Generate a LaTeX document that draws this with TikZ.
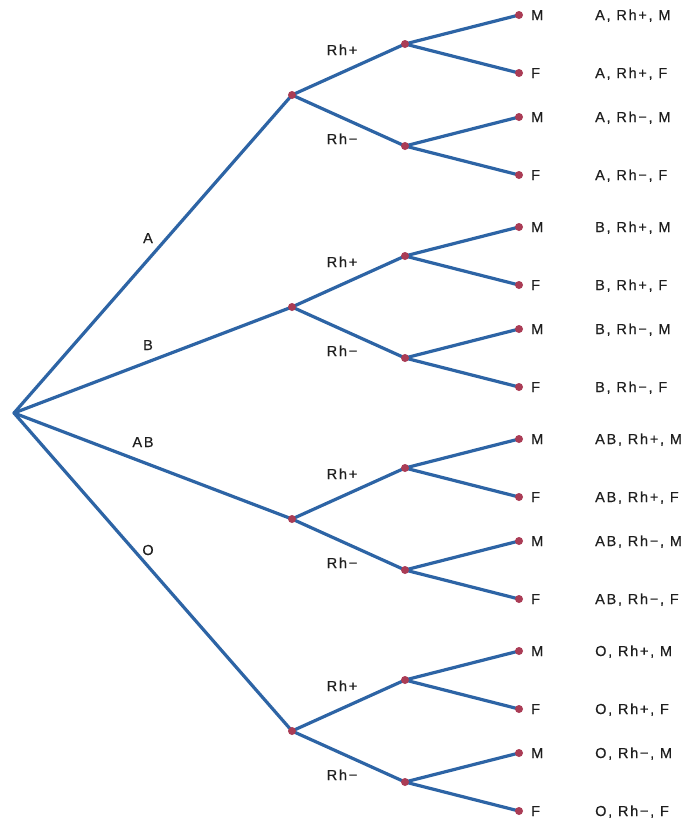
\documentclass[tikz,border=0pt]{standalone}
\usepackage{fontspec}
\setmainfont{Liberation Sans}[LetterSpace=12,FakeBold=0.4]
\usetikzlibrary{backgrounds}
\definecolor{branch}{RGB}{45,100,165}
\definecolor{dotc}{RGB}{170,60,85}
\definecolor{txt}{RGB}{30,30,30}
\begin{document}
\begin{tikzpicture}[x=1pt,y=-1pt,
  br/.style={draw=branch,line width=3.2pt,line cap=round},
  dot/.style={circle,fill=dotc,inner sep=0pt,minimum size=8pt},
  lbl/.style={text=txt,font=\fontsize{14.5}{16}\selectfont,inner sep=0pt}]
\begin{pgfonlayer}{background}
\fill[white] (0,0) rectangle (691,825);
\end{pgfonlayer}
\useasboundingbox (0,0) rectangle (691,825);
\coordinate (r) at (14,413);
\foreach \g/\gl/\yy/\lx/\ly in {a/A/95/148/238, b/B/307/148/345, ab/AB/519/143/442, o/O/731/148/550} {
  \node[dot] (\g) at (292,\yy) {};
  \node[lbl,anchor=base] (\g-l) at (\lx,{\ly+5}) {\gl};
  \begin{pgfonlayer}{background}\draw[br] (r) -- (\g.center);\end{pgfonlayer}
  \foreach \s/\sl/\dy/\ldy in {p/Rh+/-51/6, m/Rh−/51/-7} {
    \pgfmathsetmacro\yb{\yy+\dy}
    \node[dot] (\g\s) at (405,\yb) {};
    \node[lbl,anchor=base] (\g\s-l) at (342,{\yb+\ldy+5}) {\sl};
    \begin{pgfonlayer}{background}\draw[br] (\g.center) -- (\g\s.center);\end{pgfonlayer}
    \foreach \c/\cy in {M/-29, F/29} {
      \pgfmathsetmacro\yc{\yb+\cy}
      \node[dot] (\g\s\c) at (519,\yc) {};
      \node[lbl,anchor=base west] (\g\s\c-l) at (531,{\yc+5}) {\c};
      \node[lbl,anchor=base west] (\g\s\c-t) at (595,{\yc+5}) {\gl, \sl, \c};
      \begin{pgfonlayer}{background}\draw[br] (\g\s.center) -- (\g\s\c.center);\end{pgfonlayer}
    }
  }
}
\end{tikzpicture}
\end{document}
